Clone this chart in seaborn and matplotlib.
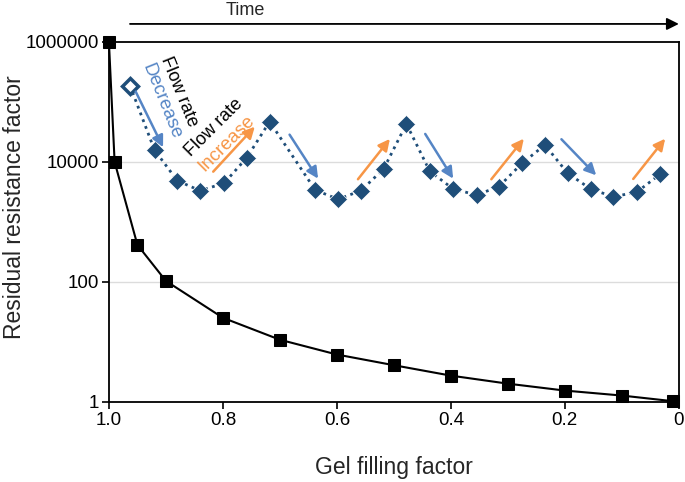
import numpy as np
import pandas as pd
import matplotlib
matplotlib.use('Agg')
import matplotlib.pyplot as plt
import seaborn as sns

# gel filling factor vs residual resistance factor (black squares)
gel_x = [1.0, 0.99, 0.95, 0.9, 0.8, 0.7, 0.6, 0.5, 0.4, 0.3, 0.2, 0.1, 0.01]
gel_rrf = [1000000, 10000, 415, 104, 25.3, 10.9, 6.18, 4.1, 2.75, 2.02, 1.55, 1.28, 1.03]

# flow-rate cycling data (blue diamonds), plotted along the same x axis
flow_x = [0.963, 0.92, 0.88, 0.84, 0.798, 0.758, 0.718, 0.638, 0.598, 0.558, 0.518,
          0.478, 0.437, 0.396, 0.355, 0.316, 0.275, 0.235, 0.195, 0.154, 0.115, 0.074, 0.033]
flow_rrf = [187000, 15800, 4880, 3320, 4420, 11800, 47000, 3410, 2390, 3320, 7640,
            43000, 7000, 3550, 2820, 3870, 9510, 19200, 6480, 3510, 2640, 3130, 6240]

# flow rate arrows: (start x, start y, end x, end y, kind)
flow_arrows = [
    (0.953, 148600, 0.905, 17600, 'dec'),
    (0.817, 6890, 0.744, 38700, 'inc'),
    (0.683, 28500, 0.633, 5270, 'dec'),
    (0.563, 5150, 0.507, 24200, 'inc'),
    (0.445, 29300, 0.396, 5270, 'dec'),
    (0.329, 5150, 0.272, 24400, 'inc'),
    (0.206, 23900, 0.145, 5990, 'dec'),
    (0.080, 5210, 0.024, 24400, 'inc'),
]

x_ticks = [1.0, 0.8, 0.6, 0.4, 0.2, 0.0]
x_tick_labels = ['1.0', '0.8', '0.6', '0.4', '0.2', '0']
y_ticks = [1, 100, 10000, 1000000]
y_tick_labels = ['1', '100', '10000', '1000000']

navy = '#1f4e79'
blue = '#5585c5'
orange = '#f79646'

sns.set_style('white')
plt.rcParams['font.family'] = ['Liberation Sans', 'DejaVu Sans']

fig = plt.figure(figsize=(6.85, 4.82), dpi=100)
ax = fig.add_axes([0.159, 0.166, 0.832, 0.747])

gel_df = pd.DataFrame({'x': gel_x, 'rrf': gel_rrf})
flow_df = pd.DataFrame({'x': flow_x, 'rrf': flow_rrf})

ax.set_yscale('log')
for y in [100, 10000]:
    ax.axhline(y, color='#dcdcdc', lw=1, zorder=0)

sns.lineplot(data=flow_df, x='x', y='rrf', sort=False, ax=ax, color=navy,
             lw=2, linestyle=(0, (1, 1.6)), zorder=2)
sns.scatterplot(data=flow_df.iloc[1:], x='x', y='rrf', ax=ax, marker='D', s=85,
                color=navy, edgecolor='white', linewidth=0.5, zorder=3)
ax.plot(flow_x[0], flow_rrf[0], marker='D', ms=8, mfc='white', mec=navy, mew=2.5,
        ls='none', zorder=4)

sns.lineplot(data=gel_df, x='x', y='rrf', sort=False, ax=ax, color='black', lw=1.5,
             marker='s', markersize=8, markeredgecolor='black', zorder=5, clip_on=False)

for x0, y0, x1, y1, kind in flow_arrows:
    c = blue if kind == 'dec' else orange
    ax.annotate('', xy=(x1, y1), xytext=(x0, y0),
                arrowprops=dict(arrowstyle='-|>', color=c, lw=1.8, mutation_scale=17,
                                shrinkA=0, shrinkB=0), zorder=6)

ax.text(0.877, 10**((402 - 92) / 60), 'Flow rate', rotation=-68, fontsize=13,
        ha='center', va='center', color='black')
ax.text(0.908, 10**((402 - 101) / 60), 'Decrease', rotation=-68, fontsize=13.5,
        ha='center', va='center', color=blue)
ax.text(0.816, 10**((402 - 128) / 60), 'Flow rate', rotation=45, fontsize=13,
        ha='center', va='center', color='black')
ax.text(0.793, 10**((402 - 143) / 60), 'Increase', rotation=45, fontsize=13.5,
        ha='center', va='center', color=orange)

ax.set_xlim(1.0, 0.0)
ax.set_ylim(1, 1000000)
ax.set_xticks(x_ticks)
ax.set_xticklabels(x_tick_labels)
ax.set_yticks(y_ticks)
ax.set_yticklabels(y_tick_labels)
ax.minorticks_off()
ax.tick_params(axis='both', direction='out', length=5, width=1.2, labelsize=13.5,
               color='black', labelcolor='black', bottom=True, left=True, pad=2)
for sp in ax.spines.values():
    sp.set_color('black')
    sp.set_linewidth(1.3)

ax.set_xlabel('Gel filling factor', fontsize=16.5, labelpad=20)
ax.set_ylabel('Residual resistance factor', fontsize=16.5)
ax.yaxis.set_label_coords(-0.145, 0.54)

# time arrow above the plot
ax.annotate('', xy=(1.0, 1.05), xytext=(0.037, 1.05), xycoords='axes fraction',
            textcoords='axes fraction', annotation_clip=False,
            arrowprops=dict(arrowstyle='-|>', color='black', lw=1.3, mutation_scale=18,
                            shrinkA=0, shrinkB=0))
ax.text(0.239, 1.088, 'Time', transform=ax.transAxes, fontsize=13, ha='center',
        va='center')

fig.savefig('out.png', dpi=100)
